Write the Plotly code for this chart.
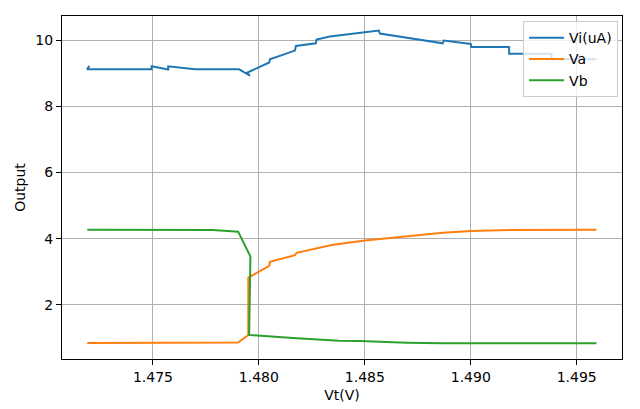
import plotly.graph_objects as go

# Vi(uA) trace
vi_x = [1.47200, 1.47189, 1.47494, 1.47494, 1.47572, 1.47572, 1.47698, 1.47907,
        1.47958, 1.47943, 1.48049, 1.48052, 1.48170, 1.48175, 1.48269, 1.48272,
        1.48335, 1.48566, 1.48571, 1.48868, 1.48873, 1.49000, 1.49002, 1.49181,
        1.49181, 1.49381, 1.49381, 1.49593]
vi_y = [9.22, 9.115, 9.115, 9.205, 9.11, 9.205, 9.115, 9.115,
        8.92, 9.01, 9.32, 9.42, 9.68, 9.82, 9.90, 10.015,
        10.105, 10.287, 10.196, 9.90, 9.985, 9.88, 9.79, 9.79,
        9.586, 9.586, 9.417, 9.417]

# Va trace
va_x = [1.47190, 1.47784, 1.47902, 1.47950, 1.47950, 1.47958, 1.48049, 1.48052,
        1.48170, 1.48178, 1.48343, 1.48500, 1.48697, 1.48869, 1.49003, 1.49184,
        1.49593]
va_y = [0.85, 0.85, 0.86, 1.09, 2.82, 2.85, 3.18, 3.30,
        3.50, 3.57, 3.81, 3.94, 4.08, 4.18, 4.23, 4.26,
        4.27]

# Vb trace
vb_x = [1.47190, 1.47784, 1.47902, 1.47960, 1.47954, 1.48049, 1.48178, 1.48379,
        1.48476, 1.48697, 1.48869, 1.49593]
vb_y = [4.27, 4.26, 4.21, 3.46, 1.09, 1.04, 0.99, 0.915,
        0.906, 0.855, 0.837, 0.837]

x_ticks = [1.475, 1.480, 1.485, 1.490, 1.495]
x_tick_labels = ["1.475", "1.480", "1.485", "1.490", "1.495"]
y_ticks = [2, 4, 6, 8, 10]

font = "DejaVu Sans"
fs = 14
fig = go.Figure()
fig.add_trace(go.Scatter(x=vi_x, y=vi_y, mode="lines", name="Vi(uA)",
                         line=dict(color="#1f77b4", width=2)))
fig.add_trace(go.Scatter(x=va_x, y=va_y, mode="lines", name="Va",
                         line=dict(color="#ff7f0e", width=2)))
fig.add_trace(go.Scatter(x=vb_x, y=vb_y, mode="lines", name="Vb",
                         line=dict(color="#2ca02c", width=2)))

axis_common = dict(showline=True, linecolor="black", linewidth=1, mirror=True,
                   ticks="outside", ticklen=5, tickcolor="black", tickwidth=1,
                   showgrid=True, gridcolor="#b0b0b0", gridwidth=1, zeroline=False,
                   automargin=False,
                   tickfont=dict(family=font, size=fs, color="black"))

# page body has an 8px default margin, so the figure is sized to fit inside it
fig.update_layout(
    width=632, height=401,
    margin=dict(l=54, r=18, t=8, b=50),
    plot_bgcolor="white", paper_bgcolor="white",
    font=dict(family=font, size=fs, color="black"),
    showlegend=True,
    legend=dict(x=0.993, xanchor="right", y=0.985, yanchor="top",
                bgcolor="rgba(255,255,255,0.8)", bordercolor="#cccccc", borderwidth=1,
                font=dict(family=font, size=fs, color="black"), itemwidth=35,
                tracegroupgap=0),
    xaxis=dict(range=[1.470708, 1.497137], tickvals=x_ticks, ticktext=x_tick_labels,
               title=dict(text="Vt(V)", standoff=6, font=dict(family=font, size=fs)),
               **axis_common),
    yaxis=dict(range=[0.363, 10.725], tickvals=y_ticks,
               title=dict(text="Output", standoff=6, font=dict(family=font, size=fs)),
               **axis_common),
)

fig.write_html("out.html")
